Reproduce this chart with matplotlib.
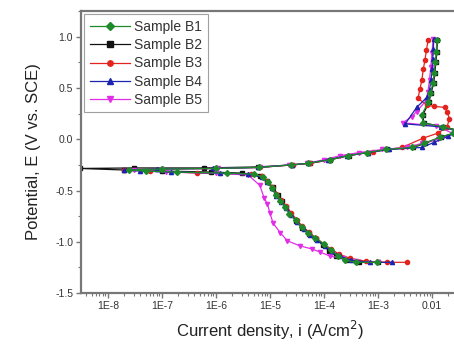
import matplotlib
matplotlib.use('Agg')
import matplotlib.pyplot as plt
from matplotlib.ticker import FixedLocator, FixedFormatter, LogLocator, NullFormatter, MultipleLocator

plt.rcParams['font.family'] = ['Liberation Sans', 'DejaVu Sans']

# Polarization curves: current density (A/cm2) and potential (V vs. SCE)
i_b1 = [9.5e-4, 4.0e-4, 2.5e-4, 1.8e-4, 1.35e-4, 1.0e-4, 6.8e-5, 5.0e-5, 3.9e-5, 3.0e-5,
        2.3e-5, 1.9e-5, 1.55e-5, 1.3e-5, 1.1e-5, 9.3e-6, 7.6e-6, 5.0e-6, 1.6e-6, 1.9e-7,
        5.0e-8, 2.5e-8, 1.0e-7, 1.0e-6, 6.3e-6, 2.5e-5, 5.0e-5, 1.3e-4, 2.8e-4, 6.3e-4,
        1.4e-3, 4.3e-3, 7.1e-3, 1.4e-2, 2.5e-2, 2.8e-2, 1.6e-2, 6.8e-3, 6.5e-3, 8.5e-3,
        9.3e-3, 1.05e-2, 1.1e-2, 1.15e-2, 1.2e-2, 1.23e-2]
e_b1 = [-1.20, -1.20, -1.18, -1.14, -1.08, -1.02, -0.96, -0.91, -0.86, -0.79,
        -0.73, -0.66, -0.60, -0.54, -0.48, -0.42, -0.37, -0.34, -0.33, -0.32,
        -0.31, -0.30, -0.29, -0.285, -0.275, -0.25, -0.235, -0.20, -0.16, -0.13,
        -0.10, -0.08, -0.04, 0.02, 0.06, 0.09, 0.12, 0.16, 0.24, 0.36,
        0.45, 0.55, 0.65, 0.75, 0.85, 0.97]

i_b2 = [1.0e-3, 4.5e-4, 2.6e-4, 1.7e-4, 1.25e-4, 9.5e-5, 7.0e-5, 5.2e-5, 4.0e-5, 3.1e-5,
        2.4e-5, 2.0e-5, 1.65e-5, 1.4e-5, 1.15e-5, 9.0e-6, 6.5e-6, 3.0e-6, 8.0e-7, 1.0e-7,
        2.0e-8, 3.0e-9, 3.0e-8, 6.0e-7, 6.0e-6, 2.6e-5, 5.5e-5, 1.3e-4, 2.9e-4, 6.5e-4,
        1.5e-3, 4.5e-3, 7.5e-3, 1.5e-2, 2.6e-2, 2.9e-2, 1.6e-2, 7.0e-3, 6.8e-3, 8.8e-3,
        9.6e-3, 1.08e-2, 1.13e-2, 1.18e-2, 1.23e-2, 1.26e-2]
e_b2 = [-1.20, -1.20, -1.18, -1.14, -1.09, -1.03, -0.97, -0.92, -0.87, -0.80,
        -0.73, -0.66, -0.60, -0.54, -0.47, -0.41, -0.36, -0.33, -0.32, -0.31,
        -0.30, -0.285, -0.28, -0.28, -0.27, -0.25, -0.235, -0.20, -0.16, -0.13,
        -0.10, -0.08, -0.04, 0.02, 0.06, 0.09, 0.12, 0.16, 0.24, 0.36,
        0.45, 0.55, 0.65, 0.75, 0.85, 0.97]

i_b3 = [3.5e-3, 1.5e-3, 6.0e-4, 3.0e-4, 1.9e-4, 1.35e-4, 1.0e-4, 7.0e-5, 5.2e-5, 4.0e-5,
        3.2e-5, 2.5e-5, 2.0e-5, 1.6e-5, 1.3e-5, 1.1e-5, 9.0e-6, 7.0e-6, 4.5e-6, 4.5e-7,
        6.0e-8, 2.0e-8, 1.0e-7, 1.0e-6, 6.5e-6, 2.7e-5, 5.5e-5, 1.3e-4, 2.8e-4, 8.0e-4,
        2.8e-3, 6.8e-3, 1.3e-2, 1.9e-2, 2.1e-2, 1.9e-2, 1.75e-2, 1.1e-2, 8.1e-3, 5.5e-3,
        6.0e-3, 6.5e-3, 6.9e-3, 7.4e-3, 7.9e-3, 8.5e-3]
e_b3 = [-1.20, -1.20, -1.19, -1.16, -1.12, -1.07, -1.02, -0.96, -0.90, -0.85,
        -0.79, -0.72, -0.65, -0.59, -0.53, -0.47, -0.41, -0.36, -0.34, -0.33,
        -0.31, -0.30, -0.29, -0.285, -0.275, -0.25, -0.235, -0.20, -0.16, -0.12,
        -0.08, 0.01, 0.06, 0.12, 0.20, 0.27, 0.31, 0.32, 0.33, 0.40,
        0.49, 0.58, 0.68, 0.77, 0.87, 0.97]

i_b4 = [1.8e-3, 7.0e-4, 3.2e-4, 2.0e-4, 1.4e-4, 1.05e-4, 7.5e-5, 5.5e-5, 4.2e-5, 3.2e-5,
        2.5e-5, 2.0e-5, 1.6e-5, 1.3e-5, 1.1e-5, 9.0e-6, 7.0e-6, 4.0e-6, 1.2e-6, 1.5e-7,
        4.0e-8, 2.0e-8, 8.0e-8, 9.0e-7, 6.0e-6, 2.6e-5, 5.0e-5, 1.2e-4, 2.7e-4, 6.5e-4,
        1.6e-3, 6.5e-3, 1.1e-2, 2.0e-2, 2.9e-2, 1.5e-2, 3.2e-3, 5.2e-3, 8.1e-3, 9.0e-3,
        9.6e-3, 1.0e-2, 1.03e-2, 1.06e-2, 1.08e-2]
e_b4 = [-1.20, -1.20, -1.18, -1.14, -1.09, -1.04, -0.98, -0.93, -0.88, -0.81,
        -0.74, -0.67, -0.61, -0.55, -0.48, -0.42, -0.37, -0.34, -0.33, -0.32,
        -0.31, -0.30, -0.29, -0.285, -0.275, -0.25, -0.235, -0.20, -0.16, -0.13,
        -0.10, -0.08, -0.03, 0.03, 0.08, 0.12, 0.15, 0.31, 0.41, 0.48,
        0.58, 0.68, 0.78, 0.88, 0.98]

i_b5 = [1.0e-3, 4.0e-4, 2.3e-4, 1.3e-4, 8.5e-5, 6.0e-5, 3.6e-5, 2.1e-5, 1.55e-5, 1.15e-5,
        1.0e-5, 9.0e-6, 7.8e-6, 6.5e-6, 4.0e-6, 1.0e-6, 1.2e-7, 3.0e-8, 1.0e-7, 1.1e-6,
        6.5e-6, 2.3e-5, 4.9e-5, 1.0e-4, 2.0e-4, 4.5e-4, 1.2e-3, 3.5e-3, 6.5e-3, 1.3e-2,
        2.6e-2, 1.2e-2, 2.9e-3, 4.2e-3, 5.2e-3, 7.6e-3, 8.4e-3, 9.0e-3, 9.5e-3, 1.0e-2,
        1.05e-2]
e_b5 = [-1.20, -1.19, -1.16, -1.14, -1.10, -1.07, -1.04, -0.99, -0.91, -0.82,
        -0.72, -0.63, -0.57, -0.45, -0.35, -0.33, -0.32, -0.30, -0.29, -0.285,
        -0.275, -0.25, -0.235, -0.20, -0.16, -0.13, -0.10, -0.08, -0.04, 0.00,
        0.05, 0.13, 0.16, 0.22, 0.27, 0.37, 0.46, 0.58, 0.70, 0.84,
        0.98]

labels = ['Sample B1', 'Sample B2', 'Sample B3', 'Sample B4', 'Sample B5']
colors = ['#1f8a2a', '#111111', '#e3241e', '#1c23b0', '#e12ee6']
markers = ['D', 's', 'o', '^', 'v']
x_ticks = [1e-8, 1e-7, 1e-6, 1e-5, 1e-4, 1e-3, 1e-2]
x_tick_labels = ['1E-8', '1E-7', '1E-6', '1E-5', '1E-4', '1E-3', '0.01']

fig = plt.figure(figsize=(4.54, 3.44), dpi=100)
ax = fig.add_axes([0.178, 0.148, 0.833, 0.820])

series = [(i_b1, e_b1), (i_b2, e_b2), (i_b3, e_b3), (i_b4, e_b4), (i_b5, e_b5)]
# drawing order: black at the bottom, green on top
order = [1, 2, 4, 3, 0]
for z, k in enumerate(order):
    cur, pot = series[k]
    ax.plot(cur, pot, color=colors[k], marker=markers[k], markersize=3.0,
            linewidth=0.9, label=labels[k], zorder=2 + z)

ax.set_xscale('log')
ax.set_xlim(10 ** -8.5, 10 ** -1.5)
ax.set_ylim(-1.5, 1.25)

ax.xaxis.set_major_locator(FixedLocator(x_ticks))
ax.xaxis.set_major_formatter(FixedFormatter(x_tick_labels))
ax.xaxis.set_minor_locator(LogLocator(base=10, subs=range(2, 10), numticks=20))
ax.xaxis.set_minor_formatter(NullFormatter())
ax.yaxis.set_major_locator(MultipleLocator(0.5))
ax.yaxis.set_minor_locator(MultipleLocator(0.25))
ax.yaxis.set_major_formatter(plt.FuncFormatter(lambda v, p: f'{v:.1f}'))

for s in ax.spines.values():
    s.set_color('#777777')
    s.set_linewidth(1.6)
ax.tick_params(which='major', direction='out', length=3.5, width=1.0, color='#777777',
               labelsize=7.5, labelcolor='#333333', pad=2)
ax.tick_params(which='minor', direction='out', length=2, width=0.8, color='#777777')

ax.set_xlabel('Current density, i (A/cm$^2$)', fontsize=12, color='#222222', labelpad=6)
ax.set_ylabel('Potential, E (V vs. SCE)', fontsize=12, color='#222222', labelpad=10)

handles, labs = ax.get_legend_handles_labels()
hmap = dict(zip(labs, handles))
leg = ax.legend([hmap[l] for l in labels], labels, loc='upper left', fontsize=10,
                handlelength=2.9, labelspacing=0.3, borderpad=0.4, handletextpad=0.3,
                borderaxespad=0.25, frameon=True, fancybox=False, markerscale=1.3)
leg.get_frame().set_edgecolor('#888888')
leg.get_frame().set_linewidth(0.8)
leg.set_zorder(10)
for t in leg.get_texts():
    t.set_color('#333333')

fig.savefig('out.png', dpi=100)
